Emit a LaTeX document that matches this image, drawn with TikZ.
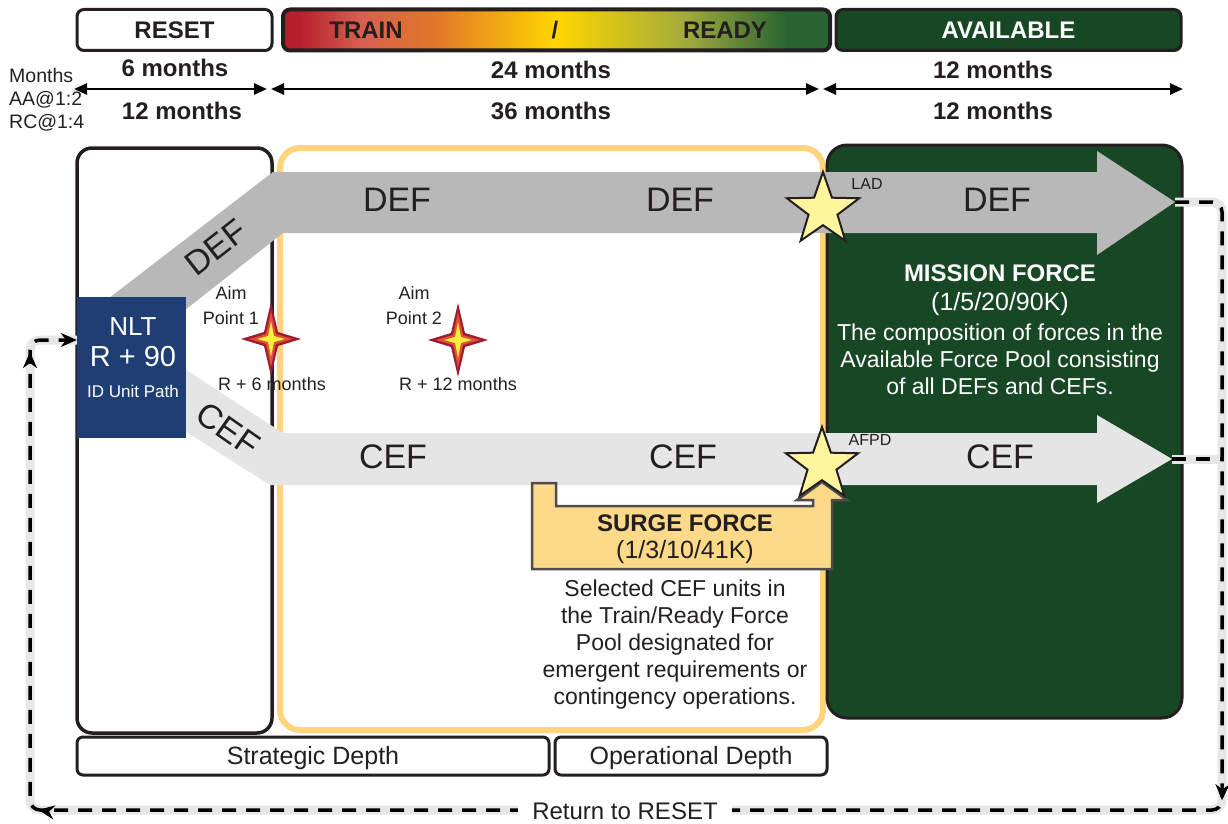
\documentclass[tikz,border=0pt]{standalone}
\usepackage{fontspec}
\setmainfont{Liberation Sans}
\usetikzlibrary{arrows.meta}
\usetikzlibrary{shapes.geometric}
\usetikzlibrary{decorations.markings}

\definecolor{avgreen}{RGB}{23,71,36}
\definecolor{nltblue}{RGB}{31,63,116}
\definecolor{defgray}{RGB}{184,184,184}
\definecolor{cefgray}{RGB}{229,229,229}
\definecolor{poolorange}{RGB}{255,212,125}
\definecolor{surgefill}{RGB}{253,217,138}
\definecolor{staryellow}{RGB}{255,245,157}
\definecolor{inkdark}{RGB}{35,31,32}
\definecolor{retgray}{RGB}{230,230,230}
\definecolor{trred}{RGB}{183,30,45}
\definecolor{trlight}{RGB}{215,95,80}
\definecolor{trorng}{RGB}{226,120,40}
\definecolor{tryellow}{RGB}{255,214,0}
\definecolor{trolive}{RGB}{160,170,60}
\definecolor{trgreen}{RGB}{40,100,50}
\definecolor{aimred}{RGB}{158,27,50}
\definecolor{aimorange}{RGB}{222,80,50}
\definecolor{aimyellow}{RGB}{246,238,60}

\pgfdeclarehorizontalshading{trainready}{100bp}{color(0bp)=(trred); color(26.5bp)=(trred); color(32bp)=(trlight); color(39bp)=(trorng); color(50bp)=(tryellow); color(62bp)=(trolive); color(71bp)=(trgreen); color(100bp)=(trgreen)}

\tikzset{
  txt/.style={text=inkdark, inner sep=0pt},
  hdrbox/.style={draw=inkdark, line width=3pt, rounded corners=7pt, minimum height=41pt, inner sep=0pt},
  hdrlbl/.style={inner sep=0pt, font=\fontsize{24}{28}\selectfont\bfseries},
  durarrow/.style={line width=2.5pt, {Triangle[length=13pt,width=11pt]}-{Triangle[length=13pt,width=11pt]}},
  monthlbl/.style={txt, font=\fontsize{24}{28}\selectfont\bfseries},
  sidelbl/.style={txt, anchor=west, font=\fontsize{19.5}{23}\selectfont},
  bandlbl/.style={txt, font=\fontsize{34}{40}\selectfont},
  aimlbl/.style={txt, align=center, font=\fontsize{18}{25}\selectfont},
  forcehead/.style={inner sep=0pt, font=\fontsize{24}{28}\selectfont\bfseries},
  forcesize/.style={inner sep=0pt, font=\fontsize{25}{28}\selectfont},
  forcetext/.style={inner sep=0pt, align=center, font=\fontsize{23}{27}\selectfont},
  depthbox/.style={draw=inkdark, line width=3pt, rounded corners=6pt, minimum height=38pt, inner sep=0pt, text depth=2pt, text=inkdark, font=\fontsize{25}{28}\selectfont},
  ptstar/.style={star, star points=5, star point ratio=2.5, minimum size=76pt, inner sep=0pt, fill=staryellow, draw=inkdark, line width=2pt},
  ptlbl/.style={txt, font=\fontsize{16}{19}\selectfont},
  surge/.style={fill=surgefill, draw=inkdark!80, line width=2.5pt},
  retbg/.style={draw=retgray, line width=9pt, rounded corners=10pt},
  retdash/.style={draw=black, line width=3.5pt, dash pattern=on 14pt off 10pt, rounded corners=10pt},
  rettip/.style={-{Stealth[length=16pt,width=14pt]}},
  aimstar/.pic={
    \fill[aimred] (0,-37) -- (7,-7) -- (30,0) -- (7,7) -- (0,37) -- (-7,7) -- (-30,0) -- (-7,-7) -- cycle;
    \fill[aimorange] (0,-28) -- (5,-5) -- (22,0) -- (5,5) -- (0,28) -- (-5,5) -- (-22,0) -- (-5,-5) -- cycle;
    \fill[aimyellow] (0,-18) -- (3,-3) -- (14,0) -- (3,3) -- (0,18) -- (-3,3) -- (-14,0) -- (-3,-3) -- cycle;
  }
}

\begin{document}
\begin{tikzpicture}[x=1pt,y=-1pt]
\useasboundingbox (0,0) rectangle (1228,824);

\node[hdrbox, fill=white, minimum width=195pt] (reset) at (174.5,30) {};
\node[hdrbox, line width=4pt, shading=trainready, minimum width=547pt] (trainbar) at (556.5,30) {};
\node[hdrbox, fill=avgreen, minimum width=345pt] (avail) at (1008.5,30) {};
\node[hdrlbl, text=inkdark] (resetlbl) at (reset) {RESET};
\node[hdrlbl, text=inkdark] (trainlbl) at (366,30) {TRAIN};
\node[hdrlbl, text=inkdark] (slashlbl) at (555,30) {/};
\node[hdrlbl, text=inkdark] (readylbl) at (725,30) {READY};
\node[hdrlbl, text=white] (availlbl) at (avail) {AVAILABLE};

\coordinate (m0) at (74,89);
\coordinate (m1) at (267,89);
\coordinate (m2) at (271,89);
\coordinate (m3) at (819,89);
\coordinate (m4) at (823,89);
\coordinate (m5) at (1183,89);
\draw[durarrow] (m0) -- (m1);
\draw[durarrow] (m2) -- (m3);
\draw[durarrow] (m4) -- (m5);
\node[monthlbl] (aa1) at (175,68) {6 months};
\node[monthlbl] (aa2) at (551,70) {24 months};
\node[monthlbl] (aa3) at (993,70) {12 months};
\node[monthlbl] (rc1) at (182,111) {12 months};
\node[monthlbl] (rc2) at (551,111) {36 months};
\node[monthlbl] (rc3) at (993,111) {12 months};
\node[sidelbl] (months) at (9,76) {Months};
\node[sidelbl] (aarate) at (9,100) {AA@1:2};
\node[sidelbl] (rcrate) at (9,123) {RC@1:4};

\node[draw=inkdark, line width=3.5pt, rounded corners=15pt, minimum width=195pt, minimum height=585pt] (resetpanel) at (174.5,440.5) {};
\node[draw=poolorange, line width=6pt, rounded corners=20pt, minimum width=543pt, minimum height=582pt] (trainpanel) at (551.5,439) {};
\node[fill=avgreen, draw=inkdark, line width=3pt, rounded corners=20pt, minimum width=355pt, minimum height=573pt] (availpanel) at (1004.5,431.5) {};

\fill[defgray] (100,305) -- (273,172) -- (1097,172) -- (1097,151) -- (1175,202) -- (1097,255) -- (1097,233) -- (283,233) -- (180,314) -- cycle;
\fill[cefgray] (180,366) -- (283,433) -- (1097,433) -- (1097,415) -- (1172,459) -- (1097,503) -- (1097,485) -- (270,485) -- (180,428) -- cycle;
\node[bandlbl, rotate=38] (defdiag) at (216,247) {DEF};
\node[bandlbl, rotate=-35] (cefdiag) at (228,429) {CEF};
\node[bandlbl] (def1) at (397,200) {DEF};
\node[bandlbl] (def2) at (680,200) {DEF};
\node[bandlbl] (def3) at (997,200) {DEF};
\node[bandlbl] (cef1) at (393,457) {CEF};
\node[bandlbl] (cef2) at (683,457) {CEF};
\node[bandlbl] (cef3) at (1000,457) {CEF};

\node[fill=nltblue, minimum width=109pt, minimum height=141pt, inner sep=0pt] (nlt) at (131.5,367.5) {};
\node[text=white, inner sep=0pt, font=\fontsize{26}{30}\selectfont] (nltA) at (133,327) {NLT};
\node[text=white, inner sep=0pt, font=\fontsize{29}{32}\selectfont] (nltB) at (133,357) {R + 90};
\node[text=white, inner sep=0pt, font=\fontsize{17}{20}\selectfont] (nltC) at (133,391) {ID Unit Path};

\pic at (271,339) {aimstar};
\pic at (458,340) {aimstar};
\node[aimlbl] (aim1) at (231,306) {Aim\\Point 1};
\node[aimlbl] (aim2) at (414,306) {Aim\\Point 2};
\node[aimlbl] (aim1t) at (272,384) {R + 6 months};
\node[aimlbl] (aim2t) at (458,384) {R + 12 months};

\draw[surge] (532,483) -- (556,483) -- (556,506) -- (813,506) -- (813,500) -- (797,500) -- (822,482) -- (847,500) -- (832,500) -- (832,569) -- (532,569) -- cycle;
\node[ptstar] (lad) at (823,210) {};
\node[ptstar] (afpd) at (822,465) {};
\node[ptlbl] (ladlbl) at (867,184) {LAD};
\node[ptlbl] (afpdlbl) at (870,440) {AFPD};

\node[forcehead, text=inkdark] (surgehead) at (685,523) {SURGE FORCE};
\node[forcesize, text=inkdark] (surgesize) at (685,552) {(1/3/10/41K)};
\node[forcetext, text=inkdark] (surgetext) at (675,645) {Selected CEF units in\\the Train/Ready Force\\Pool designated for\\emergent requirements or\\contingency operations.};
\node[forcehead, text=white] (misshead) at (1000,273) {MISSION FORCE};
\node[forcesize, text=white] (misssize) at (1000,304) {(1/5/20/90K)};
\node[forcetext, text=white] (misstext) at (1000,359) {The composition of forces in the\\Available Force Pool consisting\\of all DEFs and CEFs.};

\node[depthbox, minimum width=472pt] (strat) at (313,756) {Strategic Depth};
\node[depthbox, minimum width=272pt] (oper) at (691,756) {Operational Depth};

\coordinate (deftip) at (1175,202);
\coordinate (ceftip) at (1172,459);
\coordinate (rtop) at (1222,202);
\coordinate (rcef) at (1222,459);
\coordinate (rbot) at (1222,810);
\coordinate (lbot) at (30,810);
\coordinate (ltop) at (30,340);
\draw[retbg] (deftip) -- (rtop) -- (rbot) -- (lbot) -- (ltop) -- (nlt.west |- ltop);
\draw[retbg] (ceftip) -- (rcef);
\draw[retdash, rettip, postaction={decorate}, decoration={markings,
  mark=at position 641pt with {\arrow{Stealth[length=16pt,width=14pt]}},
  mark=at position 1830pt with {\arrow{Stealth[length=16pt,width=14pt]}},
  mark=at position 2292pt with {\arrow{Stealth[length=16pt,width=14pt]}}}]
  (deftip) -- (rtop) -- (rbot) -- (lbot) -- (ltop) -- (nlt.west |- ltop);
\draw[retdash] (ceftip) -- (rcef);
\node[fill=white, inner xsep=14pt, inner ysep=4pt, text=inkdark, font=\fontsize{24}{28}\selectfont] (retlbl) at (625,811) {Return to RESET};
\end{tikzpicture}
\end{document}
